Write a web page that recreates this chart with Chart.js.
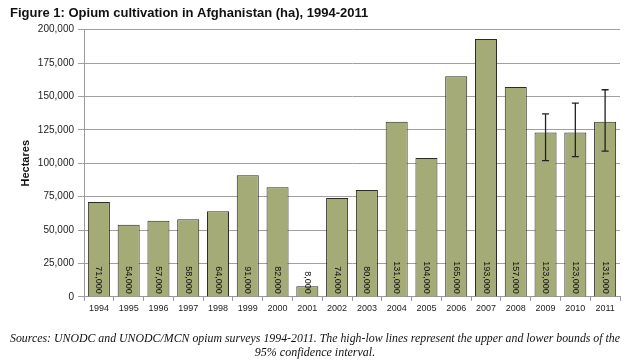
<!DOCTYPE html>
<html lang="en">
<head>
<meta charset="UTF-8" />
<title>Opium cultivation in Afghanistan</title>
<style>
  html, body { margin: 0; padding: 0; background: #fff; }
  .wrap { position: relative; width: 640px; height: 360px; }
</style>
</head>
<body>
<div class="wrap"><canvas id="chart"></canvas></div>

<script src="https://cdn.jsdelivr.net/npm/chart.js"></script>
<script>
  // values
  const years = ['1994', '1995', '1996', '1997', '1998', '1999', '2000', '2001', '2002',
    '2003', '2004', '2005', '2006', '2007', '2008', '2009', '2010', '2011'];
  const hectares = [71000, 54000, 57000, 58000, 64000, 91000, 82000, 8000, 74000,
    80000, 131000, 104000, 165000, 193000, 157000, 123000, 123000, 131000];
  // 95% confidence interval (only surveyed for the last three years)
  const lowBounds = [null, null, null, null, null, null, null, null, null,
    null, null, null, null, null, null, 102000, 105000, 109000];
  const highBounds = [null, null, null, null, null, null, null, null, null,
    null, null, null, null, null, null, 137000, 145000, 155000];
  const yMax = 200000;
  const yStep = 25000;

  const fmt = (v) => Number(v).toLocaleString('en-US');

  // rotated value labels sitting at the foot of each bar
  const barLabels = {
    id: 'barLabels',
    afterDatasetsDraw(chart) {
      const ctx = chart.ctx;
      const meta = chart.getDatasetMeta(0);
      const bottom = chart.scales.y.getPixelForValue(0);
      ctx.save();
      ctx.font = '9px "Liberation Sans", Arial, sans-serif';
      ctx.fillStyle = '#111';
      ctx.textAlign = 'right';
      ctx.textBaseline = 'middle';
      meta.data.forEach((bar, i) => {
        ctx.save();
        ctx.translate(bar.x, bottom - 3);
        ctx.rotate(Math.PI / 2);
        ctx.fillText(fmt(hectares[i]), 0, 0);
        ctx.restore();
      });
      ctx.restore();
    }
  };

  // high-low lines
  const errorBars = {
    id: 'errorBars',
    afterDatasetsDraw(chart) {
      const ctx = chart.ctx;
      const meta = chart.getDatasetMeta(0);
      const y = chart.scales.y;
      ctx.save();
      ctx.strokeStyle = '#222';
      ctx.lineWidth = 1.3;
      meta.data.forEach((bar, i) => {
        if (lowBounds[i] == null || highBounds[i] == null) return;
        const top = y.getPixelForValue(highBounds[i]);
        const bot = y.getPixelForValue(lowBounds[i]);
        ctx.beginPath();
        ctx.moveTo(bar.x, top);
        ctx.lineTo(bar.x, bot);
        ctx.moveTo(bar.x - 3.5, top);
        ctx.lineTo(bar.x + 3.5, top);
        ctx.moveTo(bar.x - 3.5, bot);
        ctx.lineTo(bar.x + 3.5, bot);
        ctx.stroke();
      });
      ctx.restore();
    }
  };

  new Chart(document.getElementById('chart'), {
    type: 'bar',
    data: {
      labels: years,
      datasets: [{
        label: 'Hectares',
        data: hectares,
        backgroundColor: '#a4ab76',
        borderColor: '#2b2b22',
        borderWidth: 1,
        barPercentage: 0.74,
        categoryPercentage: 1
      }]
    },
    options: {
      responsive: true,
      maintainAspectRatio: false,
      animation: false,
      layout: { padding: { left: 10, right: 20, top: 2, bottom: 0 } },
      plugins: {
        legend: { display: false },
        tooltip: { enabled: false },
        title: {
          display: true,
          text: 'Figure 1: Opium cultivation in Afghanistan (ha), 1994-2011',
          align: 'start',
          color: '#111',
          font: { family: '"Liberation Sans", Arial, sans-serif', size: 13, weight: 'bold' },
          padding: { top: 4, bottom: 8 }
        },
        subtitle: {
          display: true,
          position: 'bottom',
          text: [
            'Sources: UNODC and UNODC/MCN opium surveys 1994-2011. The high-low lines represent the upper and lower bounds of the',
            '95% confidence interval.'
          ],
          color: '#111',
          font: { family: '"Liberation Serif", "Times New Roman", serif', size: 12, style: 'italic', lineHeight: 1.18 },
          padding: { top: 16, bottom: 0 }
        }
      },
      scales: {
        x: {
          grid: { drawOnChartArea: false, drawTicks: true, tickLength: 4, color: '#999', offset: true },
          border: { color: '#999' },
          ticks: {
            color: '#222',
            font: { family: '"Liberation Sans", Arial, sans-serif', size: 9 },
            padding: 2,
            maxRotation: 0,
            autoSkip: false
          }
        },
        y: {
          min: 0,
          max: yMax,
          afterFit(scale) { scale.width = 74; },
          grid: { color: '#a0a0a0', tickLength: 6 },
          border: { color: '#999' },
          ticks: {
            stepSize: yStep,
            color: '#222',
            font: { family: '"Liberation Sans", Arial, sans-serif', size: 10 },
            padding: 4,
            callback: (v) => fmt(v)
          },
          title: {
            display: true,
            text: 'Hectares',
            color: '#111',
            font: { family: '"Liberation Sans", Arial, sans-serif', size: 11, weight: 'bold' },
            padding: { top: 9, bottom: 4 }
          }
        }
      }
    },
    plugins: [errorBars, barLabels]
  });
</script>
</body>
</html>
